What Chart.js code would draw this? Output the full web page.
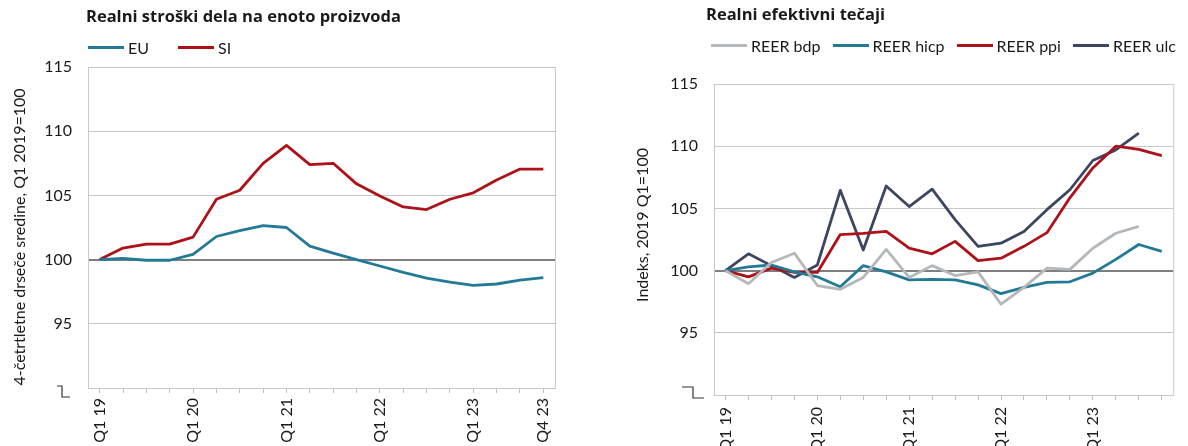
<!DOCTYPE html>
<html>
<head>
<meta charset="utf-8">
<script src="https://cdn.jsdelivr.net/npm/chart.js@4"></script>
<style>
  body { margin: 0; background: #fff; font-family: Lato, sans-serif; color: #1a1a1a; }
  #okvir { position: relative; width: 1188px; height: 446px; overflow: hidden; }
  .plosca { position: absolute; top: 0; width: 594px; height: 446px; }
  .naslov { position: absolute; font-family: "Open Sans", sans-serif; font-weight: bold; font-size: 16.5px; line-height: 20px; white-space: nowrap; }
  .legenda { position: absolute; display: flex; align-items: center; font-size: 16px; line-height: 19px; white-space: nowrap; }
  .legenda .crta { display: inline-block; width: 36px; height: 3px; margin-right: 4px; }
  .osY { position: absolute; width: 400px; height: 18px; text-align: center; font-size: 16px; line-height: 18px; transform: rotate(-90deg); transform-origin: 200px 9px; white-space: nowrap; }
</style>
</head>
<body>
<div id="okvir">
  <div class="plosca" style="left:0"><canvas id="grafLevo" width="594" height="446"></canvas></div>
  <div class="plosca" style="left:594px"><canvas id="grafDesno" width="594" height="446"></canvas></div>

  <div class="naslov" style="left:86px; top:6px">Realni stroški dela na enoto proizvoda</div>
  <div class="naslov" style="left:706px; top:4px">Realni efektivni tečaji</div>

  <div class="legenda" id="legLevo" style="left:88px; top:38px; gap:29px"></div>
  <div class="legenda" id="legDesno" style="left:711px; top:36px; gap:12px"></div>

  <div class="osY" style="left:-181px; top:228px">4-četrtletne drseče sredine, Q1 2019=100</div>
  <div class="osY" style="left:442px; top:216px">Indeks, 2019 Q1=100</div>
</div>

<script>
//KATEGORIJE (četrtletja)
const kvartali = ['Q1 19','Q2 19','Q3 19','Q4 19','Q1 20','Q2 20','Q3 20','Q4 20',
                  'Q1 21','Q2 21','Q3 21','Q4 21','Q1 22','Q2 22','Q3 22','Q4 22',
                  'Q1 23','Q2 23','Q3 23','Q4 23'];
//oznake, ki se izpišejo na osi x
const oznakeLevo = ['Q1 19','Q1 20','Q1 21','Q1 22','Q1 23','Q4 23'];
const oznakeDesno = ['Q1 19','Q1 20','Q1 21','Q1 22','Q1 23'];
//oznake na osi y (90 se ne izpiše)
const oznakeY = [95, 100, 105, 110, 115];

//LEVI GRAF - realni stroški dela na enoto proizvoda
const ulcEU = [100, 100.1, 99.95, 99.95, 100.4, 101.8, 102.25, 102.65,
               102.5, 101.05, 100.5, 100, 99.5, 99.0, 98.55, 98.25,
               98.0, 98.1, 98.4, 98.6];
const ulcSI = [100, 100.9, 101.2, 101.2, 101.75, 104.7, 105.4, 107.5,
               108.9, 107.4, 107.5, 105.9, 104.95, 104.1, 103.9, 104.7,
               105.2, 106.2, 107.05, 107.05];

//DESNI GRAF - realni efektivni tečaji
const reerBdp = [100, 98.95, 100.65, 101.4, 98.8, 98.5, 99.45, 101.7,
                 99.45, 100.4, 99.6, 99.9, 97.3, 98.65, 100.2, 100.1,
                 101.8, 103.0, 103.55, null];
const reerHicp = [100, 100.3, 100.45, 99.9, 99.5, 98.7, 100.4, 99.9,
                  99.25, 99.3, 99.25, 98.85, 98.15, 98.65, 99.05, 99.1,
                  99.8, 100.9, 102.1, 101.55];
const reerPpi = [100, 99.5, 100.2, 99.85, 99.85, 102.9, 103.0, 103.15,
                 101.8, 101.35, 102.35, 100.8, 101.0, 101.95, 103.05, 105.85,
                 108.25, 110.0, 109.75, 109.25];
const reerUlc = [100, 101.35, 100.4, 99.45, 100.45, 106.45, 101.65, 106.8,
                 105.15, 106.55, 104.1, 101.95, 102.2, 103.15, 104.9, 106.5,
                 108.85, 109.7, 111.05, null];

const modra = '#237a96';
const rdeca = '#ad1119';
const temna = '#3d4560';
const siva = '#b5b8bb';

Chart.defaults.font.family = 'Lato, sans-serif';
Chart.defaults.font.size = 16;
Chart.defaults.color = '#1a1a1a';

//nariše desni rob grafa in znak za prekinjeno os
const okvirPlugin = {
  id: 'okvir',
  afterDatasetsDraw(chart, args, opts) {
    const {ctx, chartArea: a} = chart;
    ctx.save();
    ctx.strokeStyle = '#c8c8c8';
    ctx.lineWidth = 1;
    ctx.beginPath();
    ctx.moveTo(a.right + 0.5, a.top);
    ctx.lineTo(a.right + 0.5, a.bottom);
    ctx.stroke();
    //prekinitev osi
    const p = opts.prekinitev;
    ctx.strokeStyle = '#333';
    ctx.lineWidth = 1.2;
    ctx.beginPath();
    ctx.moveTo(a.left + p[0], a.bottom + p[1]);
    ctx.lineTo(a.left + p[2], a.bottom + p[1]);
    ctx.lineTo(a.left + p[2], a.bottom + p[3]);
    ctx.lineTo(a.left + p[4], a.bottom + p[3]);
    ctx.stroke();
    ctx.restore();
  }
};

const crta = (label, data, barva) => ({
  label: label,
  data: data,
  borderColor: barva,
  backgroundColor: barva,
  borderWidth: 2.8,
  pointRadius: 0,
  tension: 0,
  borderJoinStyle: 'round',
  spanGaps: false
});

const narediGraf = (id, datasets, oznake, nastavitve) => {
  const ctx = document.getElementById(id).getContext('2d');
  return new Chart(ctx, {
    type: 'line',
    data: { labels: kvartali, datasets: datasets },
    options: {
      responsive: false,
      animation: false,
      devicePixelRatio: 1,
      layout: { padding: { top: nastavitve.zgoraj, right: nastavitve.desno, left: 0, bottom: 0 } },
      plugins: {
        legend: { display: false },
        title: { display: false },
        tooltip: { enabled: false },
        okvir: { prekinitev: nastavitve.prekinitev }
      },
      scales: {
        x: {
          offset: true,
          grid: { drawOnChartArea: false, drawTicks: true, tickLength: 5, color: '#c0c0c0' },
          border: { display: true, color: '#c8c8c8' },
          ticks: {
            autoSkip: false,
            minRotation: 90,
            maxRotation: 90,
            padding: nastavitve.odmikX,
            callback: function(v) {
              const l = this.getLabelForValue(v);
              return oznake.includes(l) ? l : '';
            }
          },
          afterFit: s => { s.height = nastavitve.visinaX; }
        },
        y: {
          min: 90,
          max: 115,
          grid: {
            drawTicks: false,
            color: c => c.tick.value === 100 ? '#7f7f7f' : '#c8c8c8',
            lineWidth: c => c.tick.value === 100 ? 2 : 1
          },
          border: { display: true, color: '#c8c8c8' },
          ticks: {
            stepSize: 5,
            padding: 16,
            callback: v => oznakeY.includes(v) ? v : ''
          },
          afterFit: s => { s.width = nastavitve.sirinaY; }
        }
      }
    },
    plugins: [okvirPlugin]
  });
};

const grafLevo = narediGraf('grafLevo', [
  crta('EU', ulcEU, modra),
  crta('SI', ulcSI, rdeca)
], oznakeLevo, { zgoraj: 67, desno: 39, sirinaY: 88, visinaX: 58, odmikX: 5, prekinitev: [-31, -2, -26, 9, -18] });

const grafDesno = narediGraf('grafDesno', [
  crta('REER bdp', reerBdp, siva),
  crta('REER hicp', reerHicp, modra),
  crta('REER ppi', reerPpi, rdeca),
  crta('REER ulc', reerUlc, temna)
], oznakeDesno, { zgoraj: 84, desno: 2, sirinaY: 120, visinaX: 51, odmikX: 7, prekinitev: [-32, -8, -21, 3, -10] });

//LEGENDA iz podatkov grafa
const narediLegendo = (graf, id) => {
  const el = document.getElementById(id);
  graf.data.datasets.forEach(ds => {
    const item = document.createElement('span');
    item.style.display = 'inline-flex';
    item.style.alignItems = 'center';
    const c = document.createElement('span');
    c.className = 'crta';
    c.style.background = ds.borderColor;
    item.appendChild(c);
    item.appendChild(document.createTextNode(ds.label));
    el.appendChild(item);
  });
};
narediLegendo(grafLevo, 'legLevo');
narediLegendo(grafDesno, 'legDesno');
</script>
</body>
</html>
